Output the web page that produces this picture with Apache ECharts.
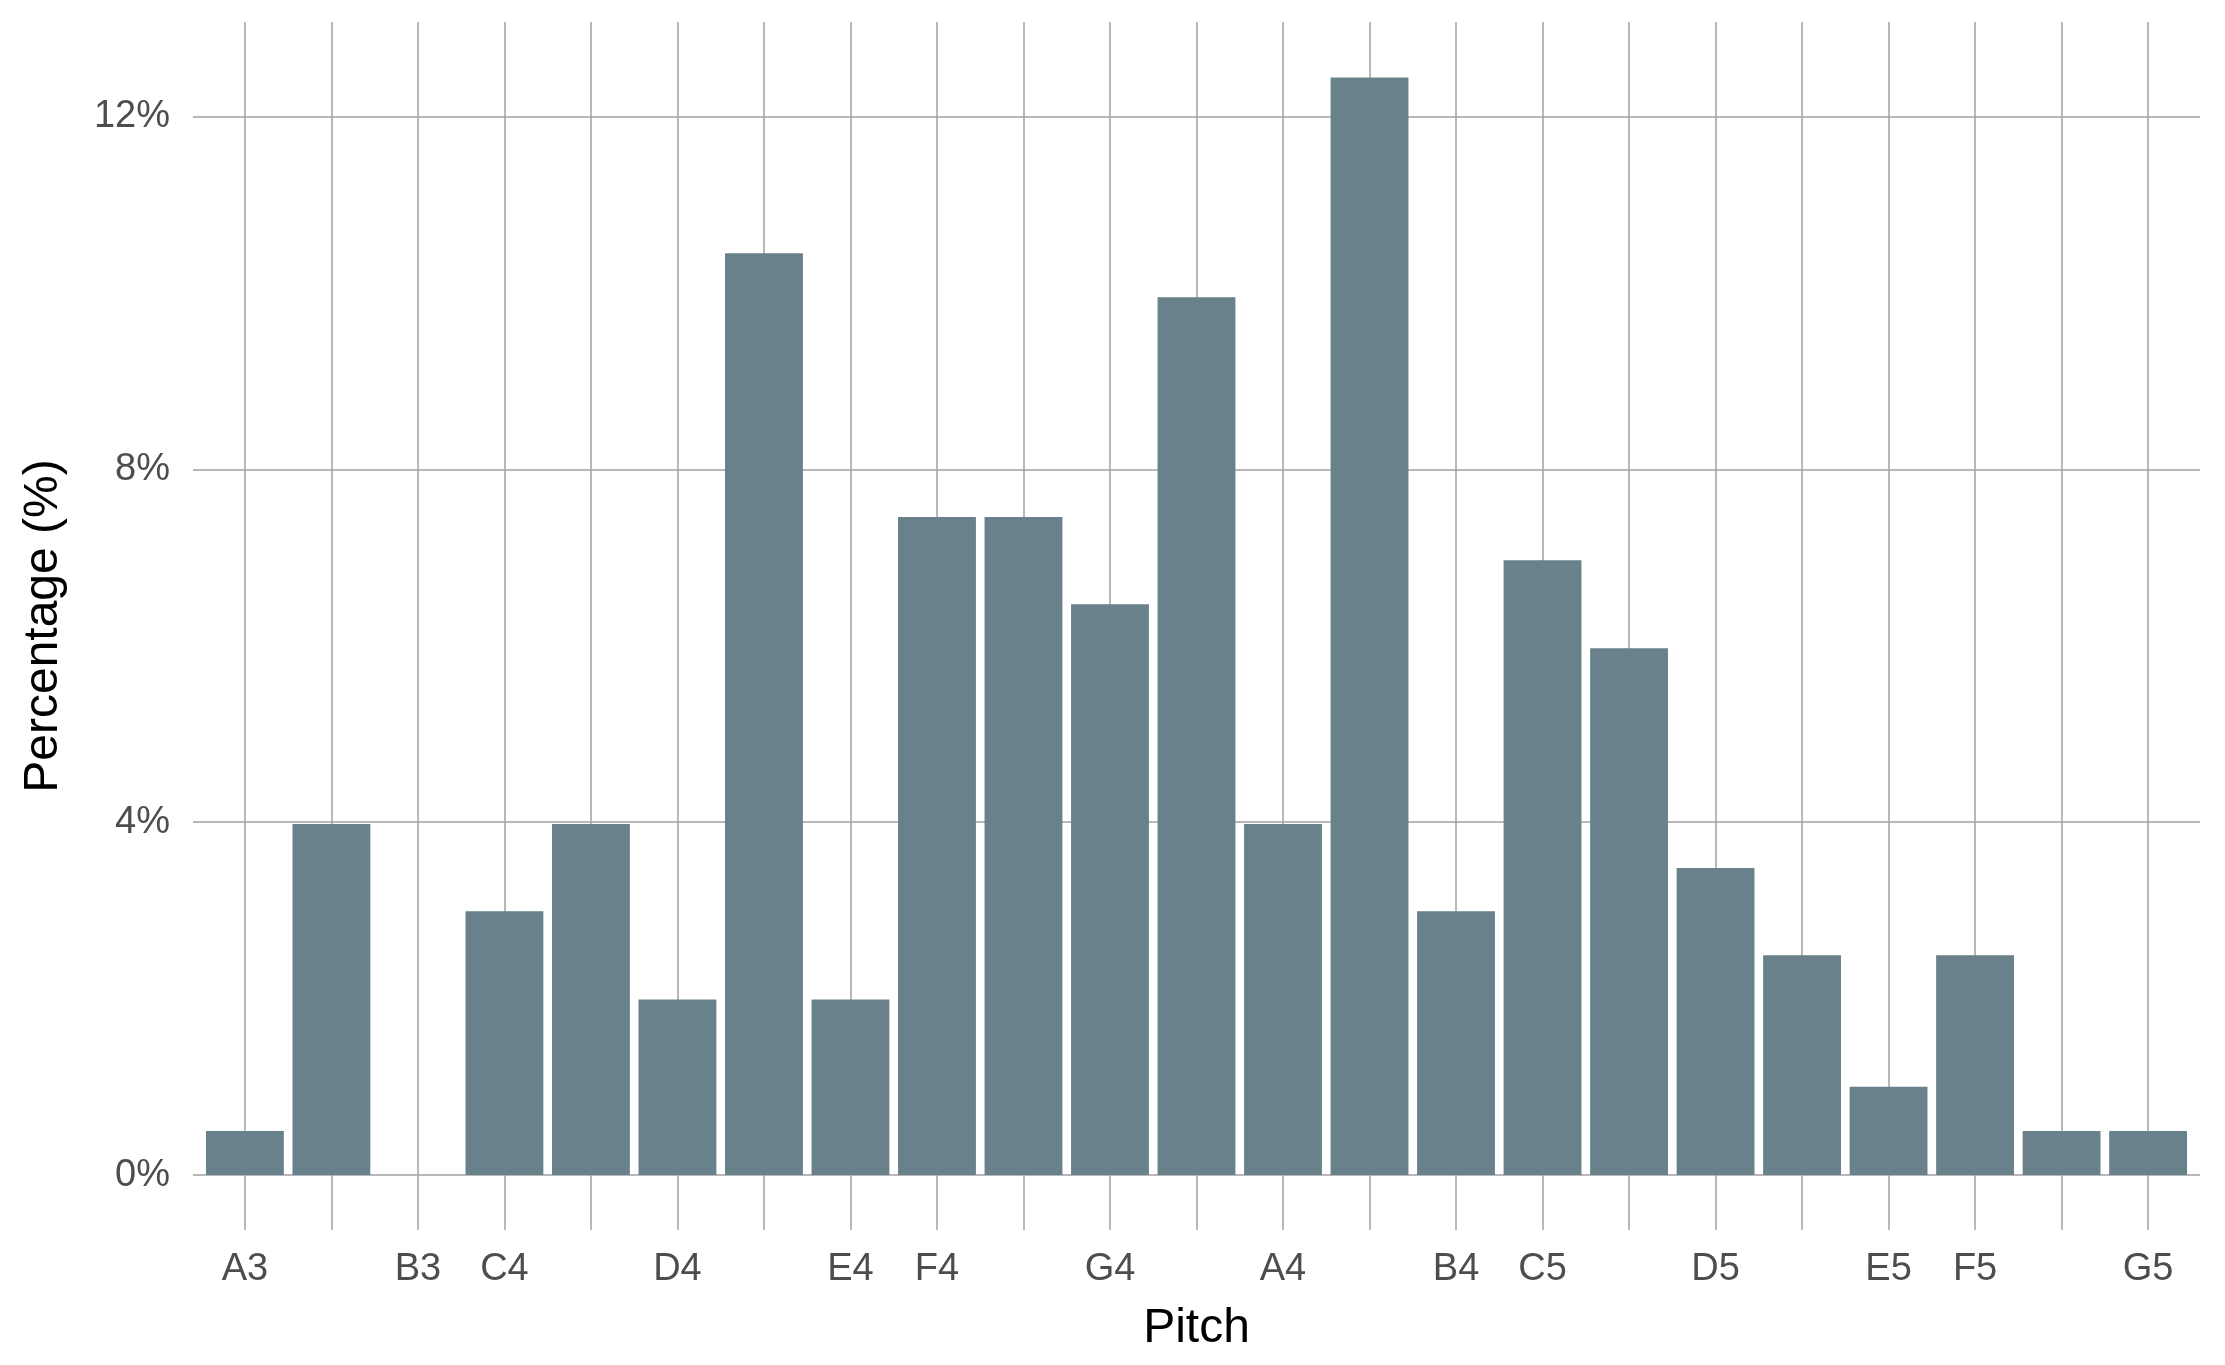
<!DOCTYPE html>
<html>
<head>
<meta charset="utf-8">
<script src="https://cdn.jsdelivr.net/npm/echarts@6/dist/echarts.min.js"></script>
<style>
html,body{margin:0;padding:0;background:#fff;}
#chart{width:2225px;height:1365px;}
</style>
</head>
<body>
<div id="chart"></div>
<script>
// Pitch categories (chromatic, A3..G5)
const pitches = ["A3","A#3","B3","C4","C#4","D4","D#4","E4","F4","F#4","G4","G#4","A4","A#4","B4","C5","C#5","D5","D#5","E5","F5","F#5","G5"];
// Tick labels shown on the x axis (natural notes only)
const tickLabels = ["A3","","B3","C4","","D4","","E4","F4","","G4","","A4","","B4","C5","","D5","","E5","F5","","G5"];
// Percentage of notes at each pitch
const percentages = [0.50,3.98,0,2.99,3.98,1.99,10.45,1.99,7.46,7.46,6.47,9.95,3.98,12.44,2.99,6.97,5.97,3.48,2.49,1.00,2.49,0.50,0.50];
// Y axis ticks
const yTicks = [0,4,8,12];

(function () {
const FONT = "'Liberation Sans', Arial, sans-serif";
const GRID = '#A0A0A0';
const BAR = '#68818A';

const chart = echarts.init(document.getElementById('chart'), null, {renderer:'canvas'});
const gLeft = 193, gRight = 25, gTop = 22, gBottom = 135;
const xMin = -0.6, xMax = pitches.length - 1 + 0.6;
const unitPx = (2225 - gLeft - gRight) / (xMax - xMin);

const idx = pitches.map((p, i) => i);

chart.setOption({
  backgroundColor: '#fff',
  animation: false,
  grid: {left: gLeft, right: gRight, top: gTop, bottom: gBottom, containLabel: false},
  xAxis: {
    type: 'value', min: xMin, max: xMax,
    axisLine: {show: false},
    splitLine: {show: false},
    axisTick: {show: false, customValues: idx},
    axisLabel: {
      customValues: idx,
      formatter: v => tickLabels[Math.round(v)] || '',
      color: '#4D4D4D', fontSize: 38, fontFamily: FONT, margin: 21
    },
    name: 'Pitch', nameLocation: 'middle', nameGap: 75,
    nameTextStyle: {color: '#000', fontSize: 48, fontFamily: FONT}
  },
  yAxis: {
    type: 'value', min: -0.623, max: 13.07,
    axisLine: {show: false},
    splitLine: {show: false},
    axisTick: {show: false, customValues: yTicks},
    axisLabel: {
      customValues: yTicks,
      formatter: v => v + '%',
      color: '#4D4D4D', fontSize: 38, fontFamily: FONT, margin: 23,
      padding: [9, 0, 0, 0]
    },
    name: 'Percentage (%)', nameLocation: 'middle', nameGap: 125,
    nameTextStyle: {color: '#000', fontSize: 48, fontFamily: FONT}
  },
  series: [
    {
      type: 'line', data: [], z: 1, silent: true,
      markLine: {
        z: 1,
        silent: true, symbol: 'none', animation: false,
        label: {show: false},
        lineStyle: {color: GRID, width: 1.5, type: 'solid'},
        data: idx.map(i => ({xAxis: i})).concat(yTicks.map(t => ({yAxis: t})))
      }
    },
    {
      type: 'bar', z: 3,
      barWidth: unitPx * 0.9,
      itemStyle: {color: BAR},
      data: percentages.map((v, i) => [i, v])
    }
  ]
});
})();
</script>
</body>
</html>
